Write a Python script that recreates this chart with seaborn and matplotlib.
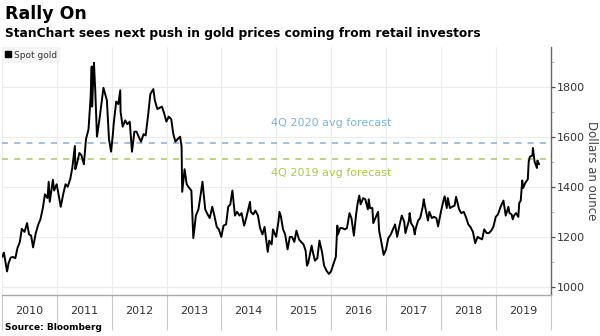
import matplotlib
matplotlib.use("Agg")
import matplotlib.pyplot as plt
import matplotlib.dates as mdates
from matplotlib.lines import Line2D
import seaborn as sns
import pandas as pd

# ---- data ----
gold_2010 = [("01-04", 1120), ("01-15", 1137), ("02-05", 1062), ("02-15", 1095), ("03-01", 1117),
             ("03-15", 1120), ("04-01", 1115), ("04-15", 1155), ("05-01", 1180), ("05-14", 1232),
             ("06-01", 1220), ("06-18", 1255), ("07-01", 1210), ("07-15", 1205), ("07-28", 1158),
             ("08-15", 1215), ("09-01", 1250), ("09-15", 1270), ("10-01", 1315), ("10-15", 1370),
             ("11-01", 1355), ("11-09", 1420), ("11-16", 1340), ("12-07", 1428), ("12-15", 1385)]
gold_2011 = [("01-01", 1410), ("01-15", 1365), ("01-28", 1320), ("02-15", 1375), ("03-01", 1410),
             ("03-15", 1400), ("04-01", 1430), ("04-15", 1475), ("05-02", 1563), ("05-05", 1470),
             ("05-15", 1490), ("06-01", 1535), ("06-15", 1525), ("07-01", 1490), ("07-15", 1590),
             ("08-01", 1630), ("08-15", 1760), ("08-22", 1880), ("08-25", 1720), ("09-01", 1830),
             ("09-06", 1895), ("09-15", 1780), ("09-26", 1600), ("10-01", 1620), ("10-15", 1680),
             ("11-08", 1795), ("11-15", 1780), ("12-01", 1745), ("12-15", 1590), ("12-29", 1540)]
gold_2012 = [("01-10", 1610), ("01-15", 1650), ("02-01", 1740), ("02-15", 1730), ("02-28", 1785),
             ("03-01", 1700), ("03-15", 1640), ("04-01", 1665), ("04-15", 1650), ("05-01", 1660),
             ("05-16", 1540), ("06-01", 1620), ("06-15", 1620), ("07-01", 1598), ("07-15", 1580),
             ("08-01", 1610), ("08-15", 1605), ("09-01", 1690), ("09-15", 1770), ("10-05", 1790),
             ("10-15", 1745), ("11-01", 1710), ("11-15", 1715), ("12-01", 1720), ("12-15", 1695),
             ("12-31", 1660)]
gold_2013 = [("01-15", 1680), ("02-01", 1670), ("02-15", 1610), ("03-01", 1580), ("03-15", 1590),
             ("04-01", 1600), ("04-11", 1560), ("04-15", 1380), ("05-01", 1470), ("05-15", 1410),
             ("06-01", 1395), ("06-15", 1385), ("06-28", 1195), ("07-15", 1285), ("08-01", 1310),
             ("08-15", 1365), ("08-28", 1420), ("09-15", 1310), ("10-01", 1290), ("10-15", 1275),
             ("11-01", 1320), ("11-15", 1285), ("12-01", 1240), ("12-15", 1230), ("12-31", 1200)]
gold_2014 = [("01-15", 1245), ("02-01", 1250), ("02-15", 1320), ("03-01", 1330), ("03-15", 1385),
             ("04-01", 1285), ("04-15", 1300), ("05-01", 1285), ("05-15", 1295), ("06-01", 1245),
             ("06-15", 1275), ("07-10", 1340), ("07-15", 1300), ("08-01", 1290), ("08-15", 1305),
             ("09-01", 1285), ("09-15", 1235), ("10-01", 1210), ("10-15", 1240), ("11-05", 1140),
             ("11-15", 1185), ("12-01", 1170), ("12-10", 1230), ("12-31", 1200)]
gold_2015 = [("01-15", 1260), ("01-22", 1300), ("02-01", 1280), ("02-15", 1230), ("03-01", 1210),
             ("03-17", 1150), ("04-01", 1200), ("04-15", 1200), ("05-01", 1180), ("05-15", 1225),
             ("06-01", 1190), ("06-15", 1180), ("07-01", 1170), ("07-15", 1145), ("07-24", 1085),
             ("08-01", 1095), ("08-24", 1165), ("09-01", 1140), ("09-15", 1105), ("10-01", 1115),
             ("10-15", 1185), ("11-01", 1140), ("11-15", 1085), ("12-01", 1065), ("12-17", 1052),
             ("12-31", 1062)]
gold_2016 = [("01-15", 1090), ("02-01", 1120), ("02-11", 1245), ("02-15", 1210), ("03-01", 1235),
             ("03-15", 1235), ("04-01", 1230), ("04-15", 1235), ("05-02", 1295), ("05-15", 1275),
             ("05-31", 1205), ("06-15", 1290), ("06-24", 1330), ("07-06", 1365), ("07-15", 1330),
             ("08-01", 1355), ("08-15", 1350), ("09-01", 1310), ("09-07", 1350), ("09-15", 1315),
             ("10-01", 1315), ("10-07", 1255), ("11-08", 1300), ("11-15", 1225), ("12-01", 1175),
             ("12-15", 1128), ("12-31", 1150)]
gold_2017 = [("01-15", 1195), ("02-01", 1210), ("02-15", 1230), ("03-01", 1250), ("03-15", 1200),
             ("04-01", 1250), ("04-15", 1285), ("05-01", 1260), ("05-09", 1215), ("06-01", 1265),
             ("06-06", 1295), ("06-15", 1255), ("07-01", 1240), ("07-10", 1210), ("07-15", 1230),
             ("08-01", 1265), ("08-15", 1275), ("09-01", 1320), ("09-08", 1350), ("09-15", 1325),
             ("10-06", 1265), ("10-15", 1300), ("11-01", 1275), ("11-15", 1280), ("12-01", 1275),
             ("12-12", 1242), ("12-31", 1300)]
gold_2018 = [("01-15", 1340), ("01-25", 1362), ("02-08", 1315), ("02-15", 1355), ("03-01", 1315),
             ("03-15", 1320), ("04-01", 1325), ("04-11", 1360), ("05-01", 1310), ("05-15", 1295),
             ("06-01", 1300), ("06-15", 1280), ("07-01", 1250), ("07-15", 1240), ("08-01", 1220),
             ("08-16", 1175), ("09-01", 1200), ("09-15", 1195), ("10-01", 1190), ("10-15", 1230),
             ("11-01", 1215), ("11-15", 1215), ("12-01", 1225), ("12-15", 1240), ("12-31", 1280)]
gold_2019 = [("01-15", 1290), ("02-01", 1320), ("02-20", 1345), ("03-07", 1285), ("03-25", 1320),
             ("04-01", 1295), ("04-15", 1290), ("04-23", 1270), ("05-01", 1285), ("05-15", 1295),
             ("05-30", 1280), ("06-05", 1335), ("06-15", 1345), ("06-25", 1425), ("07-01", 1395),
             ("07-15", 1415), ("08-01", 1430), ("08-07", 1500), ("08-15", 1520), ("09-01", 1525),
             ("09-04", 1555), ("09-15", 1500), ("10-01", 1475), ("10-04", 1505), ("10-15", 1490)]

years = [2010, 2011, 2012, 2013, 2014, 2015, 2016, 2017, 2018, 2019]
series_by_year = [gold_2010, gold_2011, gold_2012, gold_2013, gold_2014,
                  gold_2015, gold_2016, gold_2017, gold_2018, gold_2019]

forecast_values = [1575, 1510]
forecast_labels = ["4Q 2020 avg forecast", "4Q 2019 avg forecast"]
forecast_colors = ["#7fb2d9", "#a9cc4a"]

y_ticks = [1000, 1200, 1400, 1600, 1800]
y_minor = [1100, 1300, 1500, 1700, 1900]

rows = []
for yr, pts in zip(years, series_by_year):
    for md, v in pts:
        rows.append((pd.Timestamp(f"{yr}-{md}"), v))
df = pd.DataFrame(rows, columns=["date", "price"])

# ---- figure ----
sns.set_theme(style="white")
plt.rcParams["font.family"] = ["DejaVu Sans"]

fig = plt.figure(figsize=(6.0, 3.36), dpi=100)
ax = fig.add_axes([0.003, 1 - 295 / 336, 0.915, (295 - 47) / 336])

sns.lineplot(data=df, x="date", y="price", color="black", linewidth=1.4, ax=ax, legend=False)

ax.set_xlim(pd.Timestamp("2010-01-01"), pd.Timestamp("2020-01-01"))
ax.set_ylim(968, 1958)

# forecast lines
for val, lab, col, dy in zip(forecast_values, forecast_labels, forecast_colors, [80, -54]):
    ax.axhline(val, color=col, linestyle=(0, (4, 4)), linewidth=1.1, zorder=1)
    ax.text(pd.Timestamp("2016-01-01"), val + dy, lab, color=col, fontsize=8,
            ha="center", va="center")

# y axis on right
ax.yaxis.tick_right()
ax.yaxis.set_label_position("right")
ax.set_yticks(y_ticks)
ax.set_yticklabels([str(t) for t in y_ticks], fontsize=8, color="#333333")
ax.set_yticks(y_minor, minor=True)
ax.tick_params(axis="y", which="both", left=False, right=True)
ax.tick_params(axis="y", which="major", direction="out", length=3, width=0.9, color="#555555", pad=1.5)
ax.tick_params(axis="y", which="minor", direction="out", length=2, width=0.6, color="#aaaaaa")
ax.set_ylabel("Dollars an ounce", rotation=270, labelpad=9, fontsize=8.5, color="#444444")

# x axis: year separators + centred labels
ax.xaxis.set_major_locator(mdates.YearLocator())
ax.xaxis.set_major_formatter(plt.NullFormatter())
ax.xaxis.set_minor_locator(mdates.MonthLocator(bymonth=7, bymonthday=1))
ax.xaxis.set_minor_formatter(mdates.DateFormatter("%Y"))
ax.tick_params(axis="x", which="both", bottom=True, top=False)
ax.tick_params(axis="x", which="major", direction="out", length=25, width=0.8, color="#c8c8c8")
ax.tick_params(axis="x", which="minor", length=0, labelsize=8, labelcolor="#333333", pad=8)
ax.set_xlabel("")

# grid
ax.grid(True, which="major", axis="both", color="#ececec", linewidth=0.8)
ax.set_axisbelow(True)

for s in ["top", "left"]:
    ax.spines[s].set_visible(False)
ax.spines["right"].set_color("#666666")
ax.spines["right"].set_linewidth(1.0)
ax.spines["bottom"].set_color("#aaaaaa")
ax.spines["bottom"].set_linewidth(1.0)

# legend
handle = Line2D([], [], marker="s", color="black", linestyle="none", markersize=4)
leg = ax.legend([handle], ["Spot gold"], loc="upper left", bbox_to_anchor=(0.0, 1.0),
                fontsize=6.5, frameon=True, handlelength=0.6, handletextpad=0.3,
                borderpad=0.4, borderaxespad=0.0)
leg.get_frame().set_facecolor("#f2f2f2")
leg.get_frame().set_edgecolor("none")
leg.get_frame().set_boxstyle("square", pad=0.0)
for t in leg.get_texts():
    t.set_color("#333333")

# titles
fig.text(0.008, 1 - 14 / 336, "Rally On", fontsize=12.5, fontweight="bold", ha="left", va="center",
         color="black")
fig.text(0.008, 1 - 33 / 336, "StanChart sees next push in gold prices coming from retail investors",
         fontsize=8.8, fontweight="bold", ha="left", va="center", color="black")
fig.text(0.008, 1 - 328 / 336, "Source: Bloomberg", fontsize=6.5, fontweight="bold", ha="left",
         va="center", color="black")

fig.savefig("out.png", dpi=100)
